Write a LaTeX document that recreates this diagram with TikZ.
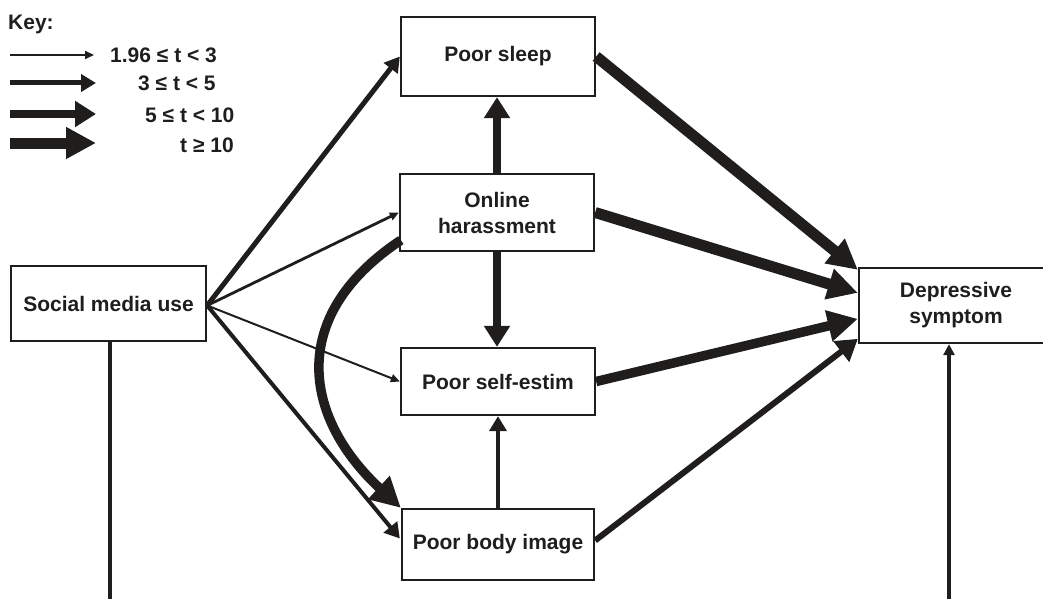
\documentclass[tikz,border=0pt]{standalone}
\usepackage{fontspec}
\setmainfont{Liberation Sans}
\usetikzlibrary{arrows.meta,calc}
\definecolor{ink}{RGB}{32,29,29}
\begin{document}
\begin{tikzpicture}[x=1pt,y=-1pt,
  every node/.style={font=\fontsize{21}{26}\selectfont\bfseries, text=ink},
  box/.style={draw=ink, line width=2.3pt, fill=white, rectangle, inner sep=0pt, align=center},
  lbl/.style={anchor=base west, inner sep=0pt},
  a1/.style={draw=ink, line width=2pt, -{Triangle[length=9pt,width=8pt]}},
  a2/.style={draw=ink, line width=5pt, -{Triangle[length=15pt,width=17pt]}},
  a3/.style={draw=ink, line width=7.5pt, -{Triangle[length=21pt,width=25pt]}},
  a4/.style={draw=ink, line width=11pt, -{Triangle[length=30pt,width=30pt]}},
  plainline/.style={draw=ink, line width=3.2pt}]
\useasboundingbox (0,0) rectangle (1043,599);
\clip (0,0) rectangle (1043,599);

% key
\node[lbl] (keyt) at (8,30) {Key:};
\node[lbl] (k1) at (110,63) {1.96 ≤ t < 3};
\node[lbl] (k2) at (138,91) {3 ≤ t < 5};
\node[lbl] (k3) at (145,123) {5 ≤ t < 10};
\node[lbl] (k4) at (180,152) {t ≥ 10};
\coordinate (k1s) at (10,55);  \coordinate (k1e) at (94,55);
\coordinate (k2s) at (10,83);  \coordinate (k2e) at (96,83);
\coordinate (k3s) at (10,114); \coordinate (k3e) at (96,114);
\coordinate (k4s) at (10,143); \coordinate (k4e) at (96,143);
\draw[a1] (k1s) -- (k1e);
\draw[a2] (k2s) -- (k2e);
\draw[a3] (k3s) -- (k3e);
\draw[a4] (k4s) -- (k4e);

% variables
\node[box, minimum width=195pt, minimum height=75pt] (smu) at (108.5,303.5) {Social media use};
\node[box, minimum width=194pt, minimum height=79pt] (ps)  at (498,56.5) {Poor sleep};
\node[box, minimum width=194pt, minimum height=77pt] (oh)  at (497,212.5) {Online\\harassment};
\node[box, minimum width=194pt, minimum height=67pt] (pse) at (498,381.5) {Poor self-estim};
\node[box, minimum width=192pt, minimum height=71pt] (pbi) at (498,544.5) {Poor body image};
\node[box, minimum width=194pt, minimum height=75pt] (dep) at (956,305.5) {Depressive\\symptom};

% paths out of social media use
\coordinate (src) at ($(smu.east)+(0,2)$);
\draw[a2] (src) -- (ps.west);
\draw[a1, line width=2.8pt] (src) -- (oh.west);
\draw[a1] (src) -- (pse.west);
\draw[a2, line width=4pt] (src) -- ($(pbi.west)+(-1,-6)$);

% paths among the mediators
\draw[a3] (oh.north) -- (oh.north |- ps.south);
\draw[a3] (oh.south) -- (oh.south |- pse.north);
\draw[a2, line width=4.5pt] (pbi.north) -- (pbi.north |- pse.south);
\draw[a4, line width=9.5pt] ($(oh.south west)+(2,-12)$)
  .. controls (284,318) and (306,420) .. (pbi.north west);

% paths into depressive symptom
\draw[a4] (ps.east) -- ($(dep.north west)+(0,3)$);
\draw[a4] (oh.east) -- ($(dep.north west)+(0,26)$);
\draw[a4, line width=9.5pt] (pse.east) -- ($(dep.north west)+(0,52)$);
\draw[a3, line width=6pt] ($(pbi.east)+(0,-4)$) -- ($(dep.north west)+(0,72)$);

% lines leaving the frame
\coordinate (bl) at (110,599);
\coordinate (br) at (949,599);
\draw[plainline] (smu.south -| bl) -- (bl);
\draw[plainline, -{Triangle[length=11pt,width=11pt]}] (br) -- (br |- dep.south);
\end{tikzpicture}
\end{document}
